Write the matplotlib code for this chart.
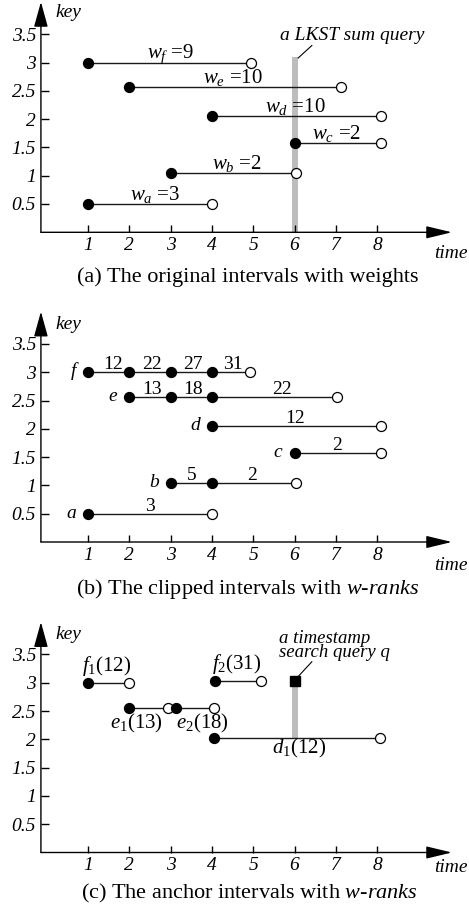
import matplotlib
matplotlib.use('Agg')
import matplotlib.pyplot as plt

plt.rcParams['font.family'] = ['Liberation Serif', 'DejaVu Serif']
plt.rcParams['mathtext.fontset'] = 'custom'
plt.rcParams['mathtext.rm'] = 'Liberation Serif'
plt.rcParams['mathtext.it'] = 'Liberation Serif:italic'
plt.rcParams['mathtext.bf'] = 'Liberation Serif:bold'

# ---------------- data ----------------
time_ticks = [1, 2, 3, 4, 5, 6, 7, 8]
time_tick_labels = ['1', '2', '3', '4', '5', '6', '7', '8']
key_ticks = [0.5, 1, 1.5, 2, 2.5, 3, 3.5]
key_tick_labels = ['0.5', '1', '1.5', '2', '2.5', '3', '3.5']

# (a) original intervals with weights
a_names = ['a', 'b', 'c', 'd', 'e', 'f']
a_keys = [0.5, 1.04, 1.57, 2.05, 2.56, 3.0]
a_start = [1, 3, 6, 4, 2, 1]
a_end = [4, 6.03, 8.1, 8.1, 7.12, 4.95]
a_weights = [3, 2, 2, 10, 10, 9]
lkst_query_time = 6
lkst_query_top = 3.1

# (b) clipped intervals with w-ranks
b_names = ['a', 'b', 'c', 'd', 'e', 'f']
b_keys = [0.5, 1.04, 1.57, 2.05, 2.56, 3.0]
b_points = [[1, 4], [3, 4, 6.03], [6, 8.1], [4, 8.1], [2, 3, 4, 7.02], [1, 2, 3, 4, 4.92]]
b_ranks = [[3], [5, 2], [2], [12], [13, 18, 22], [12, 22, 27, 31]]

# (c) anchor intervals with w-ranks
c_names = ['f', 'e', 'e', 'f', 'd']
c_sub = ['1', '1', '2', '2', '1']
c_keys = [3.0, 2.56, 2.56, 3.03, 2.03]
c_start = [1, 2, 3.12, 4.07, 4.05]
c_end = [2, 2.93, 4.05, 5.2, 8.07]
c_ranks = [12, 13, 18, 31, 12]
ts_query_time = 6
ts_query_key = 3.03
ts_query_bottom = 2.03

# ---------------- layout ----------------
W, H = 469, 915
X0, XS = 46.7, 41.3      # pixel of time 0, pixels per time unit
YS = 56.6                # pixels per key unit
AX_X = -0.14             # time where the key axis sits
PT = 0.72                # points per pixel
a_label_x = [2.62, 4.6, 7.03, 6.01, 4.51, 2.99]
b_rank_x = [[2.5], [3.5, 4.98], [7.03], [6.01], [2.56, 3.55, 5.69], [1.61, 2.56, 3.53, 4.51]]
c_label_x = [1.46, 2.17, 3.77, 4.6, 6.11]
c_label_dy = [12, -21, -21, 12, -15.5]

LINE_C = '#1a1a1a'
GRAY = '#bdbdbd'
FS = 14       # numbers / labels
FS_TICK = 14
FS_AXL = 14   # key / time
FS_CAP = 16
FS_Q = 13.5

fig = plt.figure(figsize=(W / 100, H / 100), dpi=100)


def make_ax(top_px, bot_px, key0_px, key_lab_y, time_lab_y):
    ax = fig.add_axes([0, 1 - bot_px / H, 1, (bot_px - top_px) / H])
    ax.set_xlim(-X0 / XS, (W - X0) / XS)
    ax.set_ylim((key0_px - bot_px) / YS, (key0_px - top_px) / YS)
    for s in ax.spines.values():
        s.set_visible(False)
    ax.spines['left'].set_position(('data', AX_X))
    ax.spines['bottom'].set_position(('data', 0))
    ax.set_xticks(time_ticks)
    ax.set_xticklabels(time_tick_labels)
    ax.set_yticks(key_ticks)
    ax.set_yticklabels(key_tick_labels)
    ax.tick_params(axis='y', direction='in', length=8 * PT, width=1.0, pad=5 * PT,
                   labelsize=FS_TICK)
    ax.tick_params(axis='x', direction='in', length=7 * PT, width=1.0, pad=5 * PT,
                   labelsize=FS_TICK)
    for lab in ax.get_xticklabels() + ax.get_yticklabels():
        lab.set_fontstyle('italic')
    ax.patch.set_visible(False)
    # axes with arrow heads
    ax.annotate('', xy=(9.81, 0), xytext=(AX_X, 0),
                arrowprops=dict(arrowstyle='-|>,head_length=15.8,head_width=3.8',
                                mutation_scale=1, lw=1.0, color='k',
                                shrinkA=0, shrinkB=0), annotation_clip=False)
    ax.annotate('', xy=(AX_X, 4.07), xytext=(AX_X, 0),
                arrowprops=dict(arrowstyle='-|>,head_length=15.5,head_width=4.3',
                                mutation_scale=1, lw=1.0, color='k',
                                shrinkA=0, shrinkB=0), annotation_clip=False)
    ax.text(0.2, key_lab_y, 'key', style='italic', fontsize=FS_AXL, va='baseline', ha='left')
    ax.text(10.2, time_lab_y, 'time', style='italic', fontsize=FS_AXL, va='baseline', ha='right')
    return ax


def seg(ax, s, e, k):
    ax.plot([s, e], [k, k], color=LINE_C, lw=1.0, zorder=2, clip_on=False)


def dot(ax, t, k, filled=True):
    ax.plot([t], [k], 'o', ms=7.2, mfc='k' if filled else 'white', mec='k',
            mew=0.9, zorder=5, clip_on=False)


# ---------- (a) ----------
ax = make_ax(0, 300, 232.3, 3.80, -0.45)
ax.plot([lkst_query_time, lkst_query_time], [0, lkst_query_top], color=GRAY,
        lw=6 * PT, solid_capstyle='butt', zorder=1)
for n, k, s, e, w, lx in zip(a_names, a_keys, a_start, a_end, a_weights, a_label_x):
    seg(ax, s, e, k)
    dot(ax, s, k, True)
    dot(ax, e, k, False)
    ax.annotate(rf'$w_{n}$ =' + str(w), xy=(lx, k), xytext=(0, 4 * PT),
                textcoords='offset points', ha='center', va='baseline', fontsize=FS + 1)
ax.text(5.65, 3.40, 'a LKST sum query', style='italic', fontsize=FS_Q + 0.5,
        va='baseline', ha='left')
ax.plot([6.42, 6.09], [3.30, 3.08], color='k', lw=0.8)
ax.text(4.86, -0.878, '(a) The original intervals with weights', fontsize=FS_CAP,
        ha='center', va='baseline')

# ---------- (b) ----------
ax = make_ax(300, 610, 542, 3.76, -0.49)
for n, k, pts, rk, rx in zip(b_names, b_keys, b_points, b_ranks, b_rank_x):
    seg(ax, pts[0], pts[-1], k)
    for p in pts[:-1]:
        dot(ax, p, k, True)
    dot(ax, pts[-1], k, False)
    for r, x in zip(rk, rx):
        ax.annotate(str(r), xy=(x, k), xytext=(0, 3 * PT), textcoords='offset points',
                    ha='center', va='baseline', fontsize=FS)
    ax.annotate(n, xy=(pts[0], k), xytext=(-12 * PT, -4 * PT), textcoords='offset points',
                ha='right', va='baseline', fontsize=FS, style='italic')
ax.text(4.87, -0.919, r'(b) The clipped intervals with $\mathit{w}$‐$\mathit{ranks}$',
        fontsize=FS_CAP, ha='center', va='baseline')

# ---------- (c) ----------
ax = make_ax(610, 915, 852.5, 3.77, -0.34)
ax.plot([ts_query_time, ts_query_time], [ts_query_bottom, ts_query_key], color=GRAY,
        lw=6 * PT, solid_capstyle='butt', zorder=1)
ax.plot([ts_query_time], [ts_query_key], 's', ms=7, color='k', zorder=5)
for n, sb, k, s, e, r, lx, dy in zip(c_names, c_sub, c_keys, c_start, c_end, c_ranks,
                                     c_label_x, c_label_dy):
    seg(ax, s, e, k)
    dot(ax, s, k, True)
    dot(ax, e, k, False)
    ax.annotate(rf'$\mathit{{{n}}}_{sb}$(' + str(r) + ')', xy=(lx, k), xytext=(0, dy * PT),
                textcoords='offset points', ha='center', va='baseline', fontsize=FS + 1)
ax.text(5.62, (852.5 - 657) / YS, 'a timestamp\nsearch query q', style='italic',
        fontsize=FS_Q, va='baseline', ha='left', linespacing=0.78)
ax.plot([6.42, 6.09], [3.37, 3.11], color='k', lw=0.8)
ax.text(4.9, -0.804, r'(c) The anchor intervals with $\mathit{w}$‐$\mathit{ranks}$',
        fontsize=FS_CAP, ha='center', va='baseline')

fig.savefig('out.png', dpi=100)
